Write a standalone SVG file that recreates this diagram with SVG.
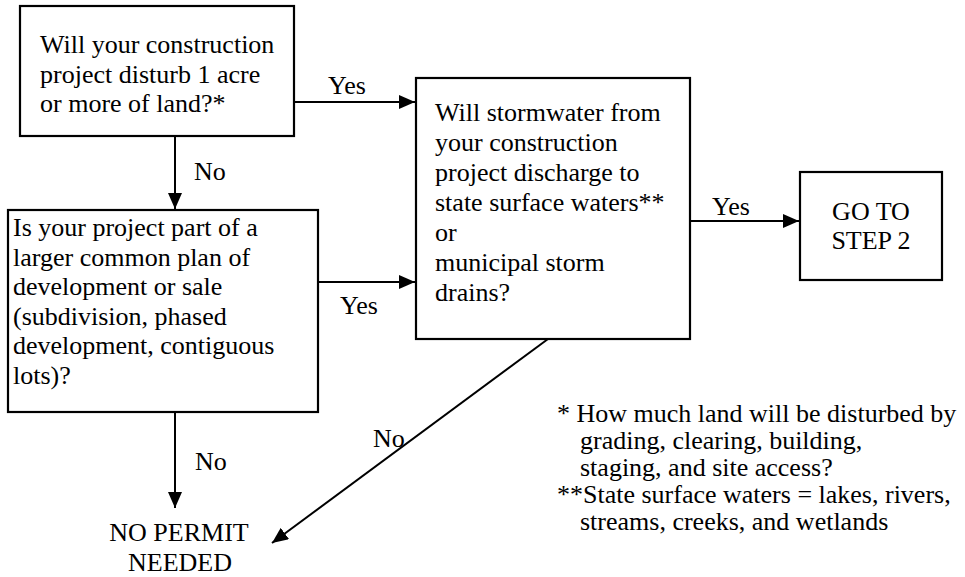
<svg xmlns="http://www.w3.org/2000/svg" width="965" height="577" viewBox="0 0 965 577" font-family="Liberation Serif, Times New Roman, serif">
<style>
.box{fill:#fff;stroke:#000;stroke-width:2.2}
text{font-size:26px;fill:#000}
.c{stroke:#000;stroke-width:2;fill:none}
.m{text-anchor:middle}
</style>
<defs>
<marker id="ah" viewBox="0 0 16 14" refX="16" refY="7" markerWidth="16" markerHeight="14" markerUnits="userSpaceOnUse" orient="auto">
<path d="M0,0 L16,7 L0,14 Z" fill="#000"/>
</marker>
</defs>
<g id="connectors">
<line class="c" x1="294" y1="102" x2="415" y2="102" marker-end="url(#ah)"/>
<line class="c" x1="175" y1="136" x2="175" y2="209" marker-end="url(#ah)"/>
<line class="c" x1="318" y1="282" x2="415" y2="282" marker-end="url(#ah)"/>
<line class="c" x1="690" y1="221" x2="799" y2="221" marker-end="url(#ah)"/>
<line class="c" x1="175" y1="412" x2="175" y2="508" marker-end="url(#ah)"/>
<line class="c" x1="548" y1="339" x2="272" y2="543" marker-end="url(#ah)"/>
<text x="328" y="94">Yes</text>
<text x="194" y="180">No</text>
<text x="340" y="314">Yes</text>
<text x="712" y="215">Yes</text>
<text x="195" y="470">No</text>
<text x="373" y="447">No</text>
</g>
<g id="n1">
<rect class="box" x="20" y="6" width="274" height="130"/>
<text x="40" y="53">Will your construction</text>
<text x="40" y="83">project disturb 1 acre</text>
<text x="40" y="112">or more of land?*</text>
</g>
<g id="n2">
<rect class="box" x="8" y="210" width="310" height="202"/>
<text x="13" y="236">Is your project part of a</text>
<text x="13" y="265.5">larger common plan of</text>
<text x="13" y="295">development or sale</text>
<text x="13" y="324.5">(subdivision, phased</text>
<text x="13" y="354">development, contiguous</text>
<text x="13" y="383.5">lots)?</text>
</g>
<g id="n3">
<rect class="box" x="416" y="78" width="274" height="261"/>
<text x="435" y="121">Will stormwater from</text>
<text x="435" y="151">your construction</text>
<text x="435" y="181">project discharge to</text>
<text x="435" y="211">state surface waters**</text>
<text x="435" y="241">or</text>
<text x="435" y="271">municipal storm</text>
<text x="435" y="301">drains?</text>
</g>
<g id="n4">
<rect class="box" x="800" y="172" width="142" height="108"/>
<text class="m" x="871" y="220">GO TO</text>
<text class="m" x="871" y="249">STEP 2</text>
</g>
<g id="n5">
<text class="m" x="179" y="541">NO PERMIT</text>
<text class="m" x="180" y="571">NEEDED</text>
</g>
<g id="notes">
<text x="557" y="422">* How much land will be disturbed by</text>
<text x="580" y="449">grading, clearing, building,</text>
<text x="580" y="476">staging, and site access?</text>
<text x="557" y="503">**State surface waters = lakes, rivers,</text>
<text x="580" y="530">streams, creeks, and wetlands</text>
</g>
</svg>
